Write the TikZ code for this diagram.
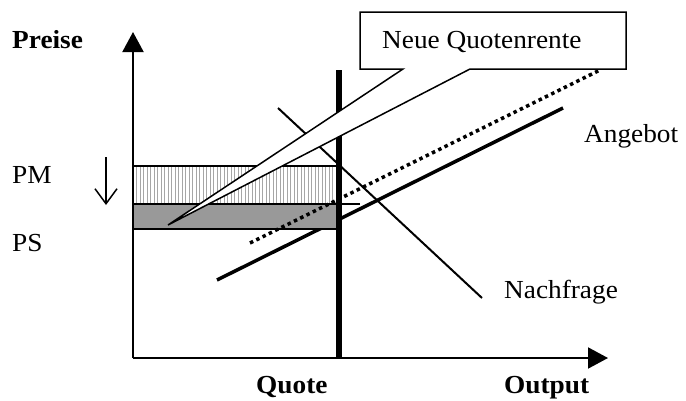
\documentclass[tikz,border=0pt]{standalone}
\usepackage{fontspec}
\setmainfont{Liberation Serif}[FakeStretch=1.05]
\usetikzlibrary{arrows.meta}
\begin{document}
\begin{tikzpicture}[x=1pt,y=-1pt,
  lbl/.style={inner sep=0pt,anchor=base west,font=\fontsize{26}{30}\selectfont},
  blbl/.style={inner sep=0pt,anchor=base west,font=\fontsize{26}{30}\selectfont\bfseries},
  axisline/.style={line width=2pt,-{Triangle[width=21pt,length=20pt]}},
  supplyline/.style={line width=3.5pt},
  shiftline/.style={line width=3.5pt,dash pattern=on 3.5pt off 3.5pt},
  demandline/.style={line width=2pt},
  quotaline/.style={line width=6pt},
  hatchline/.style={line width=1pt,black!35},
  rentbox/.style={line width=1.5pt,draw=black},
  grayrent/.style={fill=black!40,draw=black,line width=2pt},
  shiftarrow/.style={line width=1.5pt,-{Straight Barb[width=22pt,length=15pt]}}]
\useasboundingbox (0,0) rectangle (686,400);
% coordinates
\coordinate (O) at (133,358);
\coordinate (Ytip) at (133,32);
\coordinate (Xtip) at (608,358);
\coordinate (S1) at (217,280);
\coordinate (S2) at (563,108);
\coordinate (D1) at (250,243);
\coordinate (D2) at (600,70);
\coordinate (N1) at (278,108);
\coordinate (N2) at (482,298);
\coordinate (Q1) at (339,70);
\coordinate (Q2) at (339,358);
\coordinate (PMl) at (133,166);
\coordinate (PXl) at (133,204);
\coordinate (PXr) at (360,204);
\coordinate (PSr) at (339,229);
\coordinate (A1) at (106,157);
\coordinate (A2) at (106,205);
% axes
\draw[axisline] (O) -- (Ytip);
\draw[axisline] (O) -- (Xtip);
% supply
\draw[supplyline] (S1) -- (S2);
% hatched rectangle
\fill[white] (PMl) rectangle (339,204);
\foreach \x in {136.5,140,...,336} \draw[hatchline] (\x,166) -- (\x,204);
\draw[line width=2pt] (PMl) rectangle (339,204);
% gray rectangle
\draw[grayrent] (PXl) rectangle (PSr);
\draw[line width=1.5pt] (PXl) -- (PXr);
% demand
\draw[demandline] (N1) -- (N2);
% shifted supply (dotted)
\draw[shiftline] (D1) -- (D2);
% quota
\draw[quotaline] (Q1) -- (Q2);
% down arrow
\draw[shiftarrow] (A1) -- (A2);
% callout
\coordinate (B1) at (360,12);
\coordinate (B2) at (626,12);
\coordinate (B3) at (626,69);
\coordinate (B4) at (470,69);
\coordinate (Tip) at (168,225);
\coordinate (B5) at (403,69);
\coordinate (B6) at (360,69);
\draw[rentbox,fill=white,line join=miter] (B1) -- (B2) -- (B3) -- (B4) -- (Tip) -- (B5) -- (B6) -- cycle;
% labels
\node[blbl] (preise) at (12,48) {Preise};
\node[lbl] (pm) at (12,183) {PM};
\node[lbl] (ps) at (12,251) {PS};
\node[lbl] (neue) at (382,48) {Neue Quotenrente};
\node[lbl] (angebot) at (584,142) {Angebot};
\node[lbl] (nachfrage) at (504,298) {Nachfrage};
\node[blbl] (quote) at (256,393) {Quote};
\node[blbl] (output) at (504,393) {Output};
\end{tikzpicture}
\end{document}
